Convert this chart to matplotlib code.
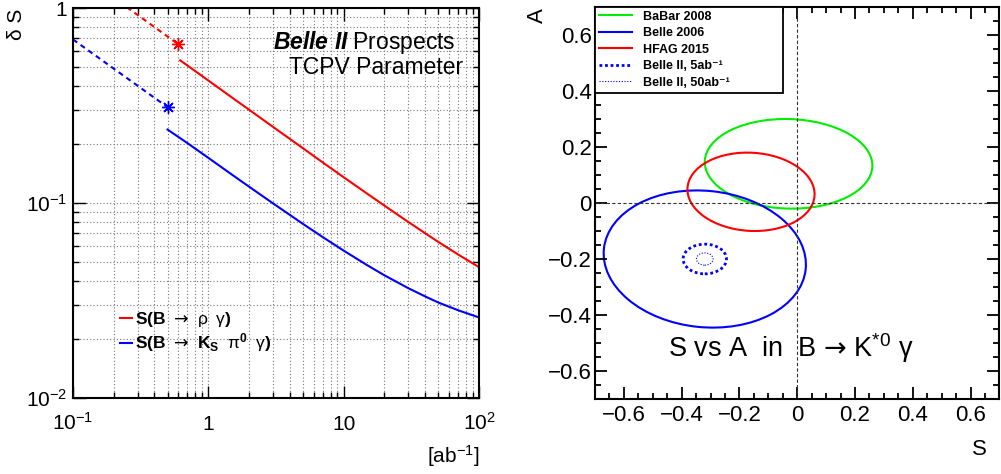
import numpy as np
import matplotlib.pyplot as plt
from matplotlib.patches import Ellipse
from matplotlib.lines import Line2D
from matplotlib.ticker import MultipleLocator, LogLocator, NullFormatter

plt.rcParams['font.family'] = ['Liberation Sans', 'DejaVu Sans']
plt.rcParams['mathtext.fontset'] = 'custom'
plt.rcParams['mathtext.rm'] = 'Liberation Sans'
plt.rcParams['mathtext.it'] = 'Liberation Sans:italic'
plt.rcParams['mathtext.bf'] = 'Liberation Sans:bold'
plt.rcParams['mathtext.bfit'] = 'Liberation Sans:italic:bold'
plt.rcParams['mathtext.sf'] = 'DejaVu Sans'

# --- left panel: delta S projections vs integrated luminosity [ab^-1]
lumi_rho = [0.62, 0.8, 1, 1.5, 2, 3, 5, 7, 10, 15, 20, 30, 40, 50, 70, 100]
dS_rho = [0.539, 0.475, 0.425, 0.347, 0.301, 0.246, 0.191, 0.1616, 0.1356, 0.1114,
          0.097, 0.080, 0.070, 0.0632, 0.0545, 0.0469]
lumi_rho_belle = [0.25, 0.6]
dS_rho_belle = [1.01, 0.652]

lumi_ks = [0.5, 0.7, 1, 1.5, 2, 3, 5, 7, 10, 15, 20, 30, 40, 50, 70, 100]
dS_ks = [0.238, 0.203, 0.1705, 0.1396, 0.1213, 0.0997, 0.0782, 0.0669, 0.057, 0.0479,
         0.0426, 0.0366, 0.0332, 0.0309, 0.0282, 0.0259]
lumi_ks_belle = [0.1, 0.5]
dS_ks_belle = [0.69, 0.31]

# --- right panel: S vs A measurements (centre, errors, correlation)
meas_names = ['BaBar 2008', 'Belle 2006', 'HFAG 2015', 'Belle II, 5ab⁻¹', 'Belle II, 50ab⁻¹']
S_c = [-0.03, -0.32, -0.16, -0.32, -0.32]
A_c = [0.14, -0.20, 0.04, -0.20, -0.20]
S_e = [0.29, 0.35, 0.22, 0.075, 0.029]
A_e = [0.16, 0.245, 0.14, 0.053, 0.022]
corr = [-0.04, -0.08, -0.06, 0.0, 0.0]

colors = ['#00ee00', '#0000ff', '#ff0000', '#0000ff', '#0000ff']
styles = ['-', '-', '-', (0, (1, 1)), (0, (1, 1.5))]
widths = [1.5, 1.5, 1.5, 2.0, 0.8]

fig = plt.figure(figsize=(10.01, 4.74), dpi=100)
ax1 = fig.add_axes([0.0729, 0.1603, 0.4056, 0.8228])
ax2 = fig.add_axes([0.5944, 0.1582, 0.4041, 0.827])

# left panel
ax1.set_xscale('log')
ax1.set_yscale('log')
l1, = ax1.plot(lumi_rho, dS_rho, color='#ff0000', lw=1.5)
ax1.plot(lumi_rho_belle, dS_rho_belle, color='#ff0000', lw=1.5, ls=(0, (2.5, 2)))
ax1.plot(lumi_rho_belle[-1], dS_rho_belle[-1], marker=(8, 2, 0), ms=9, mew=1, color='#ff0000')
l2, = ax1.plot(lumi_ks, dS_ks, color='#0000ff', lw=1.5)
ax1.plot(lumi_ks_belle, dS_ks_belle, color='#0000ff', lw=1.5, ls=(0, (2.5, 2)))
ax1.plot(lumi_ks_belle[-1], dS_ks_belle[-1], marker=(8, 2, 0), ms=9, mew=1, color='#0000ff')

ax1.set_xlim(0.1, 100)
ax1.set_ylim(0.01, 1)
ax1.set_xticks([0.1, 1, 10, 100], [r'$10^{-1}$', '1', '10', r'$10^{2}$'], va='baseline')
ax1.set_yticks([0.01, 0.1, 1], [r'$10^{-2}$', r'$10^{-1}$', '1'])
ax1.xaxis.set_minor_locator(LogLocator(base=10, subs=np.arange(2, 10)))
ax1.yaxis.set_minor_locator(LogLocator(base=10, subs=np.arange(2, 10)))
ax1.xaxis.set_minor_formatter(NullFormatter())
ax1.yaxis.set_minor_formatter(NullFormatter())
ax1.tick_params(which='both', direction='in', top=True, right=True, labelsize=15)
ax1.tick_params(which='major', length=9, width=1)
ax1.tick_params(which='minor', length=4.5, width=1)
ax1.tick_params(axis='x', pad=23)
ax1.tick_params(axis='y', pad=4)
ax1.grid(which='both', color='#777777', ls=(0, (1, 2)), lw=0.8)
ax1.set_axisbelow(True)
for sp in ax1.spines.values():
    sp.set_linewidth(1.5)

ax1.legend([l1, l2],
           [r'$\mathbf{S(B}\;\ \mathsf{→}\;\ \mathrm{ρ}\;\ \mathrm{γ}\mathbf{)}$',
            r'$\mathbf{S(B}\;\ \mathsf{→}\;\ \mathbf{K_{S}}\;\ \mathrm{π}^{\mathbf{0}}\;\ \mathrm{γ}\mathbf{)}$'],
           loc='upper left', bbox_to_anchor=(0.115, 0.226), frameon=False, fontsize=12.5,
           handlelength=0.7, handletextpad=0.2, borderpad=0, borderaxespad=0, labelspacing=0.15)

ax1.text(0.943, 0.895, r'$\mathbfit{Belle\ II}$ Prospects', transform=ax1.transAxes,
         ha='right', va='baseline', fontsize=16.5)
ax1.text(0.961, 0.830, 'TCPV Parameter', transform=ax1.transAxes,
         ha='right', va='baseline', fontsize=16.5)

fig.text(16.5 / 1001, 1 - 9 / 474, 'δ S', rotation=90, ha='center', va='top', fontsize=15)
fig.text(480 / 1001, 1 - 463 / 474, r'[ab$^{-1}$]', ha='right', va='baseline', fontsize=15)

# right panel
ax2.axhline(0, color='#333333', lw=0.8, ls=(0, (3, 2)))
ax2.axvline(0, color='#333333', lw=0.8, ls=(0, (3, 2)))
handles = []
for i in range(len(meas_names)):
    cov = np.array([[S_e[i] ** 2, corr[i] * S_e[i] * A_e[i]],
                    [corr[i] * S_e[i] * A_e[i], A_e[i] ** 2]])
    vals, vecs = np.linalg.eigh(cov)
    ang = np.degrees(np.arctan2(vecs[1, -1], vecs[0, -1]))
    e = Ellipse((S_c[i], A_c[i]), 2 * np.sqrt(vals[-1]), 2 * np.sqrt(vals[0]), angle=ang,
                fill=False, edgecolor=colors[i], lw=widths[i], ls=styles[i])
    ax2.add_patch(e)
    handles.append(Line2D([], [], color=colors[i], lw=widths[i], ls=styles[i]))

ax2.set_xlim(-0.7, 0.7)
ax2.set_ylim(-0.7, 0.7)
tick_vals = [-0.6, -0.4, -0.2, 0, 0.2, 0.4, 0.6]
tick_labs = ['−0.6', '−0.4', '−0.2', '0', '0.2', '0.4', '0.6']
ax2.set_xticks(tick_vals, tick_labs)
ax2.set_yticks(tick_vals, tick_labs)
ax2.xaxis.set_minor_locator(MultipleLocator(0.05))
ax2.yaxis.set_minor_locator(MultipleLocator(0.05))
ax2.tick_params(which='both', direction='in', top=True, right=True, labelsize=16)
ax2.tick_params(which='major', length=8.6, width=1.3)
ax2.tick_params(which='minor', length=4.3, width=1.3)
ax2.tick_params(axis='x', pad=4)
ax2.tick_params(axis='y', pad=2.5)
for sp in ax2.spines.values():
    sp.set_linewidth(1.5)

leg = ax2.legend(handles, meas_names, loc='upper left', bbox_to_anchor=(0.0, 0.0, 0.464, 1.0),
                 mode='expand', borderaxespad=0, fancybox=False, framealpha=1,
                 edgecolor='black', prop={'weight': 'bold', 'size': 9},
                 handlelength=2.7, handletextpad=0.85, labelspacing=0.36, borderpad=0.3)
leg.get_frame().set_linewidth(1.3)

ax2.text(0.18, 0.108, r'S vs A  in  B $\mathsf{→}$ K$^{*0}$ γ', transform=ax2.transAxes,
         ha='left', va='baseline', fontsize=19.5)

fig.text(537.5 / 1001, 1 - 8 / 474, 'A', rotation=90, ha='center', va='top', fontsize=16)
fig.text(987 / 1001, 1 - 455 / 474, 'S', ha='right', va='baseline', fontsize=16)

fig.savefig('out.png', dpi=100)
